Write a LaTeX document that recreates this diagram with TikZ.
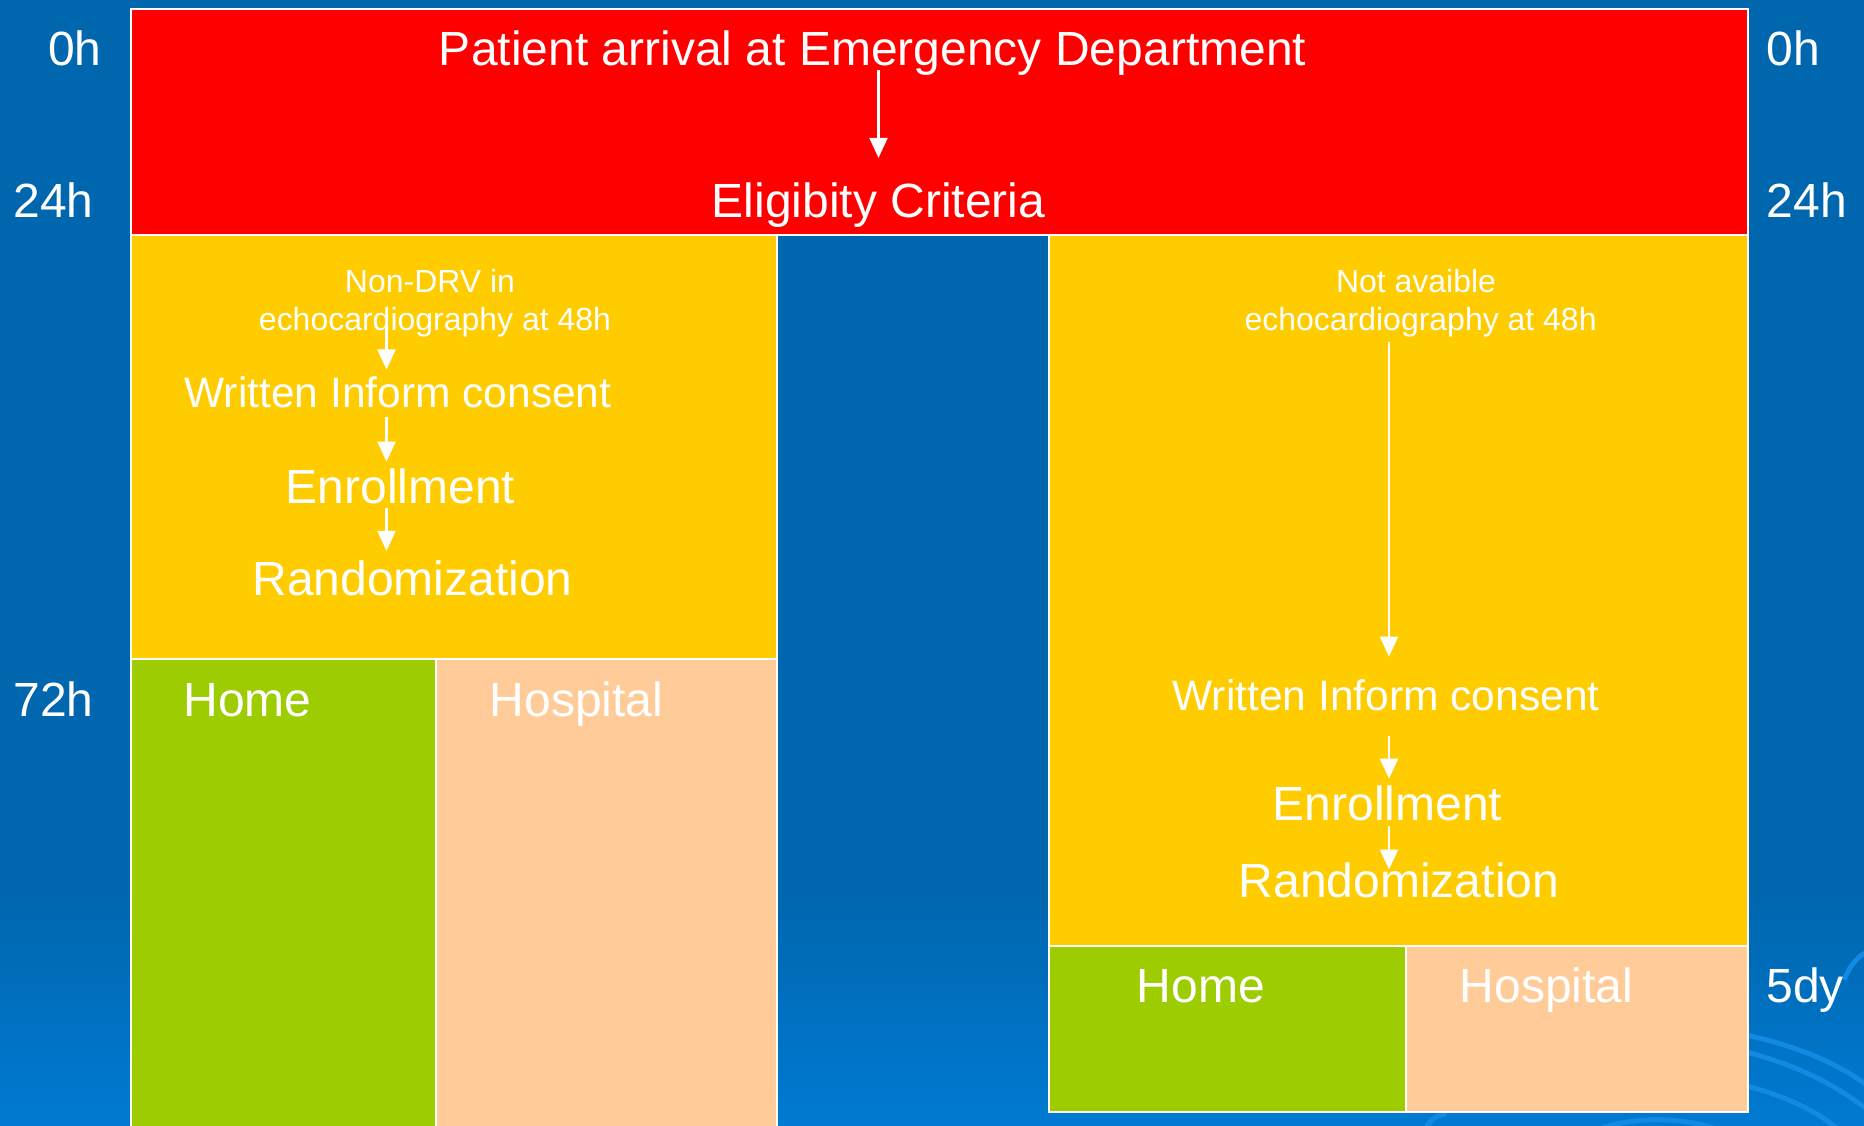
\documentclass[tikz,border=0pt]{standalone}
\usepackage{fontspec}
\setmainfont{Liberation Sans}
\usetikzlibrary{
    arrows.meta,
    positioning
}
\definecolor{slideblue}{RGB}{0,102,174}
\definecolor{slidelight}{RGB}{0,122,210}
\definecolor{swirlblue}{RGB}{18,138,226}
\definecolor{phasered}{RGB}{255,0,0}
\definecolor{phaseyellow}{RGB}{255,204,0}
\definecolor{homegreen}{RGB}{157,204,0}
\definecolor{hospeach}{RGB}{255,204,153}

\begin{document}
\begin{tikzpicture}[
    every node/.style={text=white, inner sep=0pt, anchor=base},
    bigtext/.style={font=\fontsize{13.66}{16}\selectfont},
    midtext/.style={font=\fontsize{12.1}{14}\selectfont},
    smalltext/.style={font=\fontsize{9.1}{11}\selectfont},
    phase/.style={
        fill=#1,
        draw=white,
        line width=0.6pt
    },
    flow/.style={
        -{Triangle[length=2mm,width=1.8mm]},
        white,
        line width=0.6pt
    },
    swirl/.style={
        swirlblue,
        line width=1.4pt,
        line cap=round
    }
]

    % Slide background
    \useasboundingbox (0,0) rectangle (18.64,-11.25);
    \fill[slideblue] (0,0) rectangle (18.64,-11.25);
    \shade[top color=slideblue, bottom color=slidelight] (0,-8.9) rectangle (18.64,-11.25);
    \clip (0,0) rectangle (18.64,-11.25);

    % Swirls in the corner
    \draw[swirl] (17.2,-10.30) .. controls (17.9,-10.42) and (18.4,-10.62) .. (18.8,-10.95);
    \draw[swirl] (17.2,-10.46) .. controls (17.9,-10.60) and (18.4,-10.85) .. (18.8,-11.2);
    \draw[swirl] (17.2,-10.80) .. controls (17.8,-10.92) and (18.2,-11.1) .. (18.5,-11.4);
    \draw[swirl] (18.45,-9.78) .. controls (18.5,-9.65) and (18.58,-9.56) .. (18.7,-9.5);
    \draw[swirl] (15.9,-11.32) .. controls (16.3,-11.16) and (16.8,-11.16) .. (17.2,-11.3);
    \draw[swirl] (14.25,-11.3) .. controls (14.3,-11.2) and (14.35,-11.16) .. (14.45,-11.14);

    % Phases
    \draw[phase=phasered] (1.31,-0.09) rectangle (17.48,-2.35);
    \draw[phase=phaseyellow] (1.31,-2.35) rectangle (7.77,-6.59);
    \draw[phase=homegreen] (1.31,-6.59) rectangle (4.36,-11.4);
    \draw[phase=hospeach] (4.36,-6.59) rectangle (7.77,-11.4);
    \draw[phase=phaseyellow] (10.49,-2.35) rectangle (17.48,-9.46);
    \draw[phase=homegreen] (10.49,-9.46) rectangle (14.06,-11.12);
    \draw[phase=hospeach] (14.06,-9.46) rectangle (17.48,-11.12);

    % Time axis
    \node[bigtext] (t0L) at (0.75,-0.65) {0h};
    \node[bigtext] (t24L) at (0.535,-2.17) {24h};
    \node[bigtext] (t72L) at (0.535,-7.16) {72h};
    \node[bigtext] (t0R) at (17.93,-0.65) {0h};
    \node[bigtext] (t24R) at (18.07,-2.17) {24h};
    \node[bigtext] (t5R) at (18.05,-10.025) {5dy};

    % Arrival
    \node[bigtext] (arrival) at (8.726,-0.65) {Patient arrival at Emergency Department};
    \node[bigtext] (eligib) at (8.785,-2.17) {Eligibity Criteria};

    % Left branch
    \node[smalltext] (nondrv) at (4.30,-2.92) {Non-DRV in};
    \node[smalltext] (echoL) at (4.35,-3.30) {echocardiography at 48h};
    \node[midtext] (consentL) at (3.98,-4.07) {Written Inform consent};
    \node[bigtext] (enrolL) at (4.006,-5.036) {Enrollment};
    \node[bigtext] (randL) at (4.125,-5.95) {Randomization};
    \node[bigtext] (homeL) at (2.475,-7.16) {Home};
    \node[bigtext] (hospL) at (5.766,-7.16) {Hospital};

    % Right branch
    \node[smalltext] (notavail) at (14.16,-2.92) {Not avaible};
    \node[smalltext] (echoR) at (14.206,-3.30) {echocardiography at 48h};
    \node[midtext] (consentR) at (13.86,-7.106) {Written Inform consent};
    \node[bigtext] (enrolR) at (13.875,-8.202) {Enrollment};
    \node[bigtext] (randR) at (13.99,-8.97) {Randomization};
    \node[bigtext] (homeR) at (12.007,-10.025) {Home};
    \node[bigtext] (hospR) at (15.466,-10.025) {Hospital};

    % Arrow columns
    \coordinate (colL) at (3.865,0);
    \coordinate (colR) at (13.89,0);

    % Arrows
    \draw[flow, shorten <=-0.06cm, shorten >=0.236cm] (arrival.south -| eligib.north) -- (eligib.north);

    \draw[flow, shorten <=-0.02cm, shorten >=0.06cm] (echoL.base -| colL) -- (consentL.north -| colL);
    \draw[flow, shorten <=0.09cm, shorten >=0.065cm] (consentL.south -| colL) -- (enrolL.north -| colL);
    \draw[flow, shorten <=0.035cm, shorten >=0.086cm] (enrolL.south -| colL) -- (randL.north -| colL);

    \draw[flow, shorten <=0.05cm, shorten >=0.225cm] (echoR.south -| colR) -- (consentR.north -| colR);
    \draw[flow, shorten <=0.24cm, shorten >=0.06cm] (consentR.south -| colR) -- (enrolR.north -| colR);
    \draw[flow, shorten <=0.047cm, shorten >=-0.08cm] (enrolR.south -| colR) -- (randR.north -| colR);

\end{tikzpicture}
\end{document}
